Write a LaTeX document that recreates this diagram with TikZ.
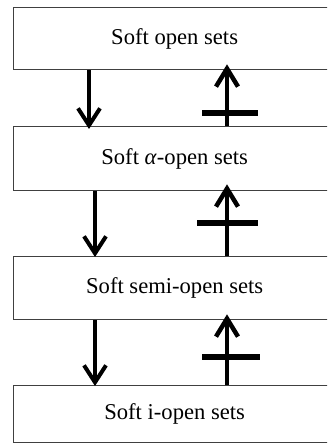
\documentclass[tikz,border=0pt]{standalone}
\usepackage{fontspec}
\setmainfont{Liberation Serif}
\usetikzlibrary{arrows.meta,calc}
\tikzset{
  setbox/.style={draw=black!75, line width=1.3pt, minimum width=322pt, inner sep=0pt, font=\fontsize{22.6}{26}\selectfont, anchor=north west, fill=white},
  downarr/.style={line width=4pt, -{Straight Barb[length=17pt,width=22pt,line width=4pt]}},
  uparr/.style={line width=4.5pt, -{Straight Barb[length=18pt,width=22pt,line width=4.5pt]}},
  crossbar/.style={line width=6pt},
}
\begin{document}
\begin{tikzpicture}[x=1pt,y=-1pt]
\useasboundingbox (0,0) rectangle (327,443);
\clip (0,0) rectangle (327,443);
\node[setbox, minimum height=62pt] (b1) at (13,7) {Soft open sets};
\node[setbox, minimum height=64pt] (b2) at (13,126) {Soft \textit{α}-open sets};
\node[setbox, minimum height=63pt] (b3) at (13,256) {Soft semi-open sets};
\node[setbox, minimum height=57pt] (b4) at (13,385) {Soft i-open sets};
% down arrows
\draw[downarr] ([xshift=76pt]b1.south west) -- ([xshift=76pt,yshift=-3pt]b2.north west);
\draw[downarr] ([xshift=82pt]b2.south west) -- ([xshift=82pt,yshift=-1pt]b3.north west);
\draw[downarr] ([xshift=82pt]b3.south west) -- ([xshift=82pt,yshift=-1pt]b4.north west);
% up arrows with crossbars
\draw[uparr] ([xshift=214pt]b2.north west) -- ([xshift=214pt,yshift=6pt]b1.south west);
\draw[crossbar] ($(b2.north west)+(189,-13)$) -- ++(56,0);
\draw[uparr] ([xshift=214pt]b3.north west) -- ([xshift=214pt,yshift=7pt]b2.south west);
\draw[crossbar] ($(b3.north west)+(184,-33)$) -- ++(61,0);
\draw[uparr] ([xshift=214pt]b4.north west) -- ([xshift=214pt,yshift=6pt]b3.south west);
\draw[crossbar] ($(b4.north west)+(189,-28)$) -- ++(58,0);
\end{tikzpicture}
\end{document}
